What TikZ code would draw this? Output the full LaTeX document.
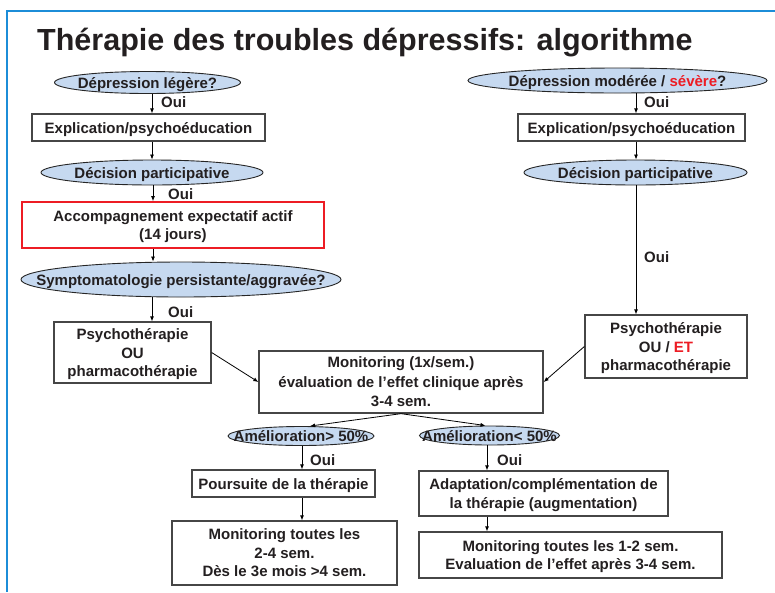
\documentclass[tikz,border=0pt]{standalone}
\usepackage{fontspec}
\setmainfont{Liberation Sans}
\usetikzlibrary{arrows.meta,shapes.geometric}
\definecolor{txt}{RGB}{35,31,32}
\definecolor{ellfill}{RGB}{198,217,240}
\definecolor{frameblue}{RGB}{28,141,216}
\definecolor{boxline}{RGB}{70,70,70}
\definecolor{redline}{RGB}{237,28,36}
\begin{document}
\begin{tikzpicture}[x=1pt,y=-1pt,
 every node/.style={font=\bfseries\fontsize{15}{18.5}\selectfont, text=txt, text depth=0pt},
 box/.style={draw=boxline, line width=1.3pt, rectangle, inner sep=0pt, align=center, fill=white},
 redbox/.style={box, draw=redline, line width=1.8pt},
 ell/.style={draw=black!85, line width=0.9pt, ellipse, fill=ellfill, inner sep=0pt},
 lbl/.style={inner sep=0pt, align=center},
 oui/.style={inner sep=0pt, anchor=base west},
 arr/.style={draw=black, line width=0.8pt, -{Latex[length=5pt,width=4pt]}},
]
\useasboundingbox (0,0) rectangle (775,592);
\draw[frameblue, line width=2.5pt] (775,11) -- (7,11) -- (7,592);

\node[anchor=base west, inner sep=0pt, font=\bfseries\fontsize{30.5}{36}\selectfont] (title) at (37,50) {Thérapie des troubles dépressifs: algorithme};

% left column
\node[ell, minimum width=186pt, minimum height=22pt] (e1) at (147.5,82.5) {};
\node[lbl] (e1t) at (e1) {Dépression légère?};
\node[box, minimum width=233pt, minimum height=27pt] (b1) at (148.5,127.5) {Explication/psychoéducation};
\node[ell, minimum width=222pt, minimum height=25pt] (e2) at (152,172.5) {};
\node[lbl] (e2t) at (e2) {Décision participative};
\node[redbox, minimum width=302pt, minimum height=46pt] (r1) at (173,225) {Accompagnement expectatif actif\\(14 jours)};
\node[ell, minimum width=320pt, minimum height=35pt] (e3) at (181,279.5) {};
\node[lbl] (e3t) at (e3) {Symptomatologie persistante/aggravée?};
\node[box, minimum width=157pt, minimum height=61pt] (p1) at (132.5,352.5) {Psychothérapie\\OU\\pharmacothérapie};

% right column
\node[ell, minimum width=299pt, minimum height=25pt] (e4) at (617.5,80.5) {};
\node[lbl] (e4t) at (e4) {Dépression modérée / \textcolor{redline}{sévère}?};
\node[box, minimum width=227pt, minimum height=27pt] (b2) at (631.5,127.5) {Explication/psychoéducation};
\node[ell, minimum width=223pt, minimum height=25pt] (e5) at (635.5,172.5) {};
\node[lbl] (e5t) at (e5) {Décision participative};
\node[box, minimum width=162pt, minimum height=63pt] (p2) at (666,346.5) {Psychothérapie\\OU / \textcolor{redline}{ET}\\pharmacothérapie};

% middle
\node[box, minimum width=284pt, minimum height=62pt, font=\bfseries\fontsize{15}{19.5}\selectfont] (mon) at (401,382) {Monitoring (1x/sem.)\\évaluation de l’effet clinique après\\3-4 sem.};
\node[ell, minimum width=146pt, minimum height=19pt] (a1) at (301,436) {};
\node[lbl] (a1t) at (a1) {Amélioration> 50\%};
\node[ell, minimum width=140pt, minimum height=19pt] (a2) at (489.5,435.5) {};
\node[lbl] (a2t) at (a2) {Amélioration< 50\%};
\node[box, minimum width=183pt, minimum height=27pt] (po) at (283.5,483.5) {Poursuite de la thérapie};
\node[box, minimum width=225pt, minimum height=64pt] (m1) at (284.5,553) {Monitoring toutes les\\2-4 sem.\\Dès le 3e mois >4 sem.};
\node[box, minimum width=249pt, minimum height=45pt] (ad) at (543.5,493.5) {Adaptation/complémentation de\\la thérapie (augmentation)};
\node[box, minimum width=303pt, minimum height=46pt] (m2) at (570.5,555) {Monitoring toutes les 1-2 sem.\\Evaluation de l’effet après 3-4 sem.};

% Oui labels
\node[oui] (o1) at (161,107) {Oui};
\node[oui] (o2) at (168,199) {Oui};
\node[oui] (o3) at (168,317) {Oui};
\node[oui] (o4) at (644,107) {Oui};
\node[oui] (o5) at (644,262) {Oui};
\node[oui] (o6) at (310,465) {Oui};
\node[oui] (o7) at (497,465) {Oui};

% connectors left
\draw[arr] (e1.south -| 152,0) -- (b1.north -| 152,0);
\draw[arr] (b1.south -| 152,0) -- (e2.north -| 152,0);
\draw[arr] (e2.south -| 153,0) -- (r1.north -| 153,0);
\draw[arr] (r1.south -| 153,0) -- (e3.north -| 153,0);
\draw[arr] (e3.south -| 152,0) -- (p1.north -| 152,0);
% connectors right
\draw[arr] (e4.south -| 636,0) -- (b2.north -| 636,0);
\draw[arr] (b2.south -| 636,0) -- (e5.north -| 636,0);
\draw[arr] (e5.south -| 636,0) -- (p2.north -| 636,0);
% middle
\draw[arr] (p1.east) -- (mon.west);
\draw[arr] (p2.west) -- (mon.east);
\draw[arr] (mon.south) -- ([xshift=9pt]a1.north);
\draw[arr] (mon.south) -- ([xshift=-4pt]a2.north);
\draw[arr] (a1.south -| 302,0) -- (po.north -| 302,0);
\draw[arr] (po.south -| 302,0) -- (m1.north -| 302,0);
\draw[arr] (a2.south -| 487,0) -- (ad.north -| 487,0);
\draw[arr] (ad.south -| 487,0) -- (m2.north -| 487,0);
\end{tikzpicture}
\end{document}
